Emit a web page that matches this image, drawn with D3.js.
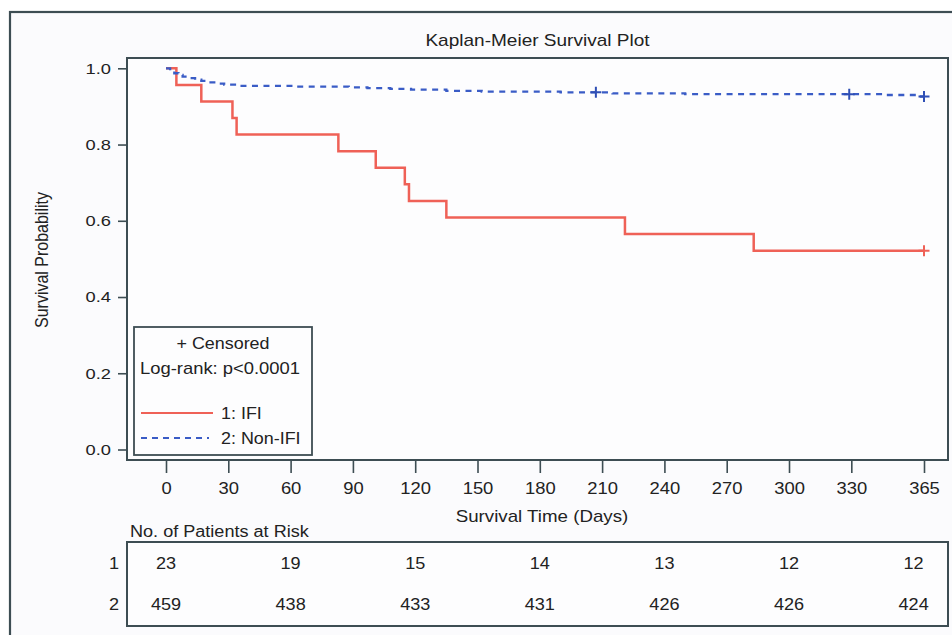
<!DOCTYPE html>
<html><head><meta charset="utf-8">
<script src="https://cdn.jsdelivr.net/npm/d3@7"></script>
<style>html,body{margin:0;padding:0;background:#fff;}svg{display:block;}</style>
</head><body>
<script>
// ---- data ----
const timeTicks = [0, 30, 60, 90, 120, 150, 180, 210, 240, 270, 300, 330, 365];
const probTicks = [0.0, 0.2, 0.4, 0.6, 0.8, 1.0];
const ifiTimes = [0, 5, 17, 32, 34, 83, 101, 115, 117, 135, 221, 283];
const ifiSurv  = [1.0, 0.9565, 0.9130, 0.8696, 0.8261, 0.7826, 0.7391, 0.6957, 0.6522, 0.6087, 0.5652, 0.5217];
const ifiCensor = [365];
const nonIfiTimes = [0, 2, 4, 6, 8, 11, 14, 17, 20, 24, 28, 34, 62, 88, 97, 108, 118, 135, 152, 190, 215, 250, 345, 362];
const nonIfiSurv  = [1.0, 0.9935, 0.987, 0.9826, 0.978, 0.974, 0.970, 0.967, 0.963, 0.960, 0.957, 0.954, 0.952, 0.950, 0.948, 0.946, 0.944, 0.941, 0.939, 0.937, 0.934, 0.932, 0.930, 0.926];
const nonIfiCensor = [207, 329, 365];
const endTime = 365;
const riskTimes = [0, 60, 120, 180, 240, 300, 360];
const riskIFI = [23, 19, 15, 14, 13, 12, 12];
const riskNonIFI = [459, 438, 433, 431, 426, 426, 424];
const groupLabels = ["1: IFI", "2: Non-IFI"];

// ---- layout ----
const W = 952, H = 635;
const FONT = "'Liberation Sans', Arial, sans-serif";
const SX = 1.15; // horizontal stretch of text
const TXT = "#222222";
const FRAME = "#3d4d53";
const RED = "#ef6157", BLUE = "#3a5cc6";

const svg = d3.select("body").append("svg").attr("width", W).attr("height", H);
svg.append("rect").attr("width", W).attr("height", H).attr("fill", "#ffffff");
// outer frame
svg.append("rect").attr("x", 10).attr("y", 12).attr("width", W + 20).attr("height", H + 20)
  .attr("fill", "#fbfbfd").attr("stroke", FRAME).attr("stroke-width", 2.2);

const pL = 127, pR = 948, pT = 58, pB = 460;
const x = d3.scaleLinear().domain([0, 365]).range([166, 924]);
const y = d3.scaleLinear().domain([0, 1]).range([449.5, 68.3]);

function stext(g, px, py, str, size, anchor, sx) {
  return g.append("text")
    .attr("transform", `translate(${px},${py}) scale(${sx === undefined ? SX : sx},1)`)
    .attr("text-anchor", anchor || "start")
    .attr("dy", "0.35em")
    .attr("font-family", FONT).attr("font-size", size).attr("fill", TXT)
    .text(str);
}

// title
stext(svg, (pL + pR) / 2, 40, "Kaplan-Meier Survival Plot", 17, "middle", 1.12);

// plot area frame
svg.append("rect").attr("x", pL).attr("y", pT).attr("width", pR - pL).attr("height", pB - pT)
  .attr("fill", "#fdfdfe").attr("stroke", FRAME).attr("stroke-width", 2);

// y axis
const yAxis = d3.axisLeft(y).tickValues(probTicks).tickFormat(d3.format(".1f")).tickSize(9).tickPadding(7);
const gy = svg.append("g").attr("transform", `translate(${pL},0)`).call(yAxis);
gy.select(".domain").remove();
gy.selectAll(".tick line").attr("stroke", FRAME).attr("stroke-width", 1.6);
gy.selectAll(".tick text").each(function () {
  const t = d3.select(this); const xx = +t.attr("x");
  t.attr("x", xx / 1.18).attr("transform", "scale(1.18,1)");
}).attr("font-family", FONT).attr("font-size", 15.5).attr("fill", TXT);

// x axis
const xAxis = d3.axisBottom(x).tickValues(timeTicks).tickFormat(d3.format("d")).tickSize(13).tickPadding(10);
const gx = svg.append("g").attr("transform", `translate(0,${pB})`).call(xAxis);
gx.select(".domain").remove();
gx.selectAll(".tick line").attr("stroke", FRAME).attr("stroke-width", 1.6);
gx.selectAll(".tick text").attr("transform", "scale(1.15,1)")
  .attr("font-family", FONT).attr("font-size", 16).attr("fill", TXT);
stext(svg, 542, 516, "Survival Time (Days)", 16, "middle", 1.17);

// y label
svg.append("text").attr("transform", "translate(42,260) rotate(-90) scale(1,1.12)")
  .attr("text-anchor", "middle").attr("dy", "0.35em")
  .attr("font-family", FONT).attr("font-size", 16).attr("fill", TXT).text("Survival Probability");

// curves
function stepPts(times, surv) {
  const pts = times.map((t, i) => [t, surv[i]]);
  pts.push([endTime, surv[surv.length - 1]]);
  return pts;
}
function survAt(times, surv, t) {
  let v = surv[0];
  for (let i = 0; i < times.length; i++) if (times[i] <= t) v = surv[i];
  return v;
}
const line = d3.line().x(d => x(d[0])).y(d => y(d[1])).curve(d3.curveStepAfter);

svg.append("path").attr("d", line(stepPts(ifiTimes, ifiSurv)))
  .attr("fill", "none").attr("stroke", RED).attr("stroke-width", 2.5);
svg.append("path").attr("d", line(stepPts(nonIfiTimes, nonIfiSurv)))
  .attr("fill", "none").attr("stroke", BLUE).attr("stroke-width", 2.3).attr("stroke-dasharray", "6,5.5");

function censor(times, surv, cens, color) {
  cens.forEach(t => {
    const cx = x(t), cy = y(survAt(times, surv, t));
    svg.append("path").attr("d", `M${cx - 5.5},${cy}H${cx + 5.5}M${cx},${cy - 5.5}V${cy + 5.5}`)
      .attr("stroke", color).attr("stroke-width", 2);
  });
}
censor(ifiTimes, ifiSurv, ifiCensor, RED);
censor(nonIfiTimes, nonIfiSurv, nonIfiCensor, "#2f4fb5");

// legend
const lg = svg.append("g");
lg.append("rect").attr("x", 134).attr("y", 327).attr("width", 178).attr("height", 128)
  .attr("fill", "#fdfdfe").attr("stroke", FRAME).attr("stroke-width", 1.8);
stext(lg, 223, 343, "+ Censored", 16, "middle", 1.12);
stext(lg, 140, 368, "Log-rank: p<0.0001", 16, "start", 1.15);
lg.append("line").attr("x1", 141).attr("x2", 213).attr("y1", 413).attr("y2", 413)
  .attr("stroke", RED).attr("stroke-width", 2.2);
lg.append("line").attr("x1", 141).attr("x2", 209).attr("y1", 438).attr("y2", 438)
  .attr("stroke", BLUE).attr("stroke-width", 2).attr("stroke-dasharray", "6,5");
stext(lg, 221, 413, groupLabels[0], 16, "start", 1.12);
stext(lg, 221, 438, groupLabels[1], 16, "start", 1.12);

// risk table
stext(svg, 130, 531, "No. of Patients at Risk", 16, "start", 1.13);
svg.append("rect").attr("x", pL).attr("y", 542).attr("width", pR - pL).attr("height", 84)
  .attr("fill", "#fdfdfe").attr("stroke", FRAME).attr("stroke-width", 2);
const rowsY = [563, 604];
stext(svg, 114, rowsY[0], "1", 16, "middle", 1.13);
stext(svg, 114, rowsY[1], "2", 16, "middle", 1.13);
riskTimes.forEach((t, i) => {
  stext(svg, x(t), rowsY[0], String(riskIFI[i]), 16, "middle", 1.13);
  stext(svg, x(t), rowsY[1], String(riskNonIFI[i]), 16, "middle", 1.13);
});
</script>
</body></html>
